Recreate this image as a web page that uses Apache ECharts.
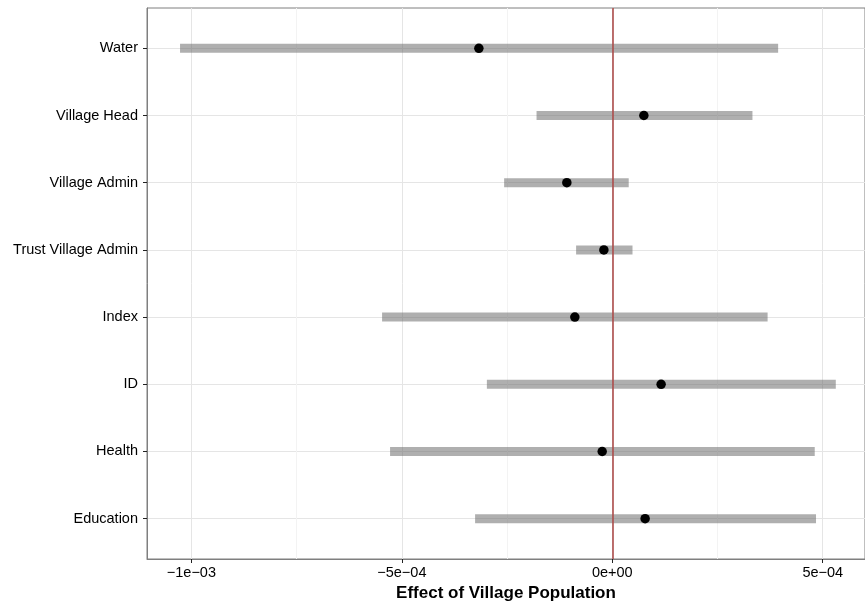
<!DOCTYPE html>
<html><head><meta charset="utf-8">
<script src="https://cdn.jsdelivr.net/npm/echarts@6/dist/echarts.min.js"></script>
<style>html,body{margin:0;padding:0;background:#fff}#c{width:865px;height:603px}</style>
</head><body><div id="c"></div>
<script>
// Bottom to top (ggplot order)
const categories = ['Education', 'Health', 'ID', 'Index', 'Trust Village Admin', 'Village Admin', 'Village Head', 'Water'];
const lowValues   = [-3.26e-4, -5.28e-4, -2.98e-4, -5.47e-4, -8.6e-5, -2.57e-4, -1.80e-4, -1.027e-3];
const highValues  = [ 4.84e-4,  4.81e-4,  5.31e-4,  3.69e-4,  4.8e-5,  3.9e-5,   3.33e-4,  3.94e-4];
const pointValues = [ 7.8e-5,  -2.4e-5,   1.16e-4, -8.9e-5,  -2.0e-5, -1.08e-4,  7.5e-5,  -3.17e-4];
const xTickValues = [-1e-3, -5e-4, 0, 5e-4];
const xTickLabels = ['\u22121e\u221203', '\u22125e\u221204', '0e+00', '5e\u221204'];
const xMinorValues = [-7.5e-4, -2.5e-4, 2.5e-4];
const refLineValue = 0;

const positions = categories.map((c, i) => i + 1);
const FONT = "'Liberation Sans', Arial, Helvetica, sans-serif";
const xMin = -1.1055e-3, xMax = 6.004e-4;

function xLabel(v) {
  for (let i = 0; i < xTickValues.length; i++) {
    if (Math.abs(v - xTickValues[i]) < 1e-9) return xTickLabels[i];
  }
  return '';
}

const chart = echarts.init(document.getElementById('c'), null, {renderer: 'canvas'});
chart.setOption({
  animation: false,
  backgroundColor: '#ffffff',
  grid: {left: 147, right: 0, top: 8, bottom: 44, containLabel: false, outerBoundsMode: 'none',
         show: true, borderColor: '#7f7f7f', borderWidth: 1, backgroundColor: '#ffffff'},
  xAxis: [{
    type: 'value', min: xMin, max: xMax, position: 'bottom',
    name: 'Effect of Village Population', nameLocation: 'middle', nameGap: 20,
    nameTextStyle: {fontFamily: FONT, fontSize: 17, fontWeight: 'bold', color: '#000'},
    axisLine: {show: true, onZero: false, lineStyle: {color: '#7f7f7f', width: 1}},
    axisTick: {show: true, length: 4, customValues: xTickValues, lineStyle: {color: '#222', width: 1}},
    axisLabel: {customValues: xTickValues, formatter: xLabel, margin: 6, fontFamily: FONT, fontSize: 14.5, color: '#000'},
    splitLine: {show: true, lineStyle: {color: '#e5e5e5', width: 1}}
  }, {
    type: 'value', min: xMin, max: xMax, position: 'top',
    axisLine: {show: false, onZero: false},
    axisTick: {show: false, customValues: xMinorValues},
    axisLabel: {show: false, customValues: xMinorValues},
    splitLine: {show: true, lineStyle: {color: '#f3f3f3', width: 1}}
  }],
  yAxis: {
    type: 'value', min: 0.4, max: 8.6, position: 'left',
    axisLine: {show: true, onZero: false, lineStyle: {color: '#7f7f7f', width: 1}},
    axisTick: {show: true, length: 4, customValues: positions, lineStyle: {color: '#222', width: 1}},
    axisLabel: {customValues: positions, formatter: v => categories[Math.round(v) - 1] || '', margin: 9, fontFamily: FONT, fontSize: 14.5, color: '#000'},
    splitLine: {show: true, lineStyle: {color: '#e5e5e5', width: 1}}
  },
  series: [{
    type: 'custom', xAxisIndex: 0, z: 2,
    data: categories.map((c, i) => [lowValues[i], highValues[i], positions[i]]),
    encode: {x: [0, 1], y: 2},
    renderItem: function (params, api) {
      const p1 = api.coord([api.value(0), api.value(2)]);
      const p2 = api.coord([api.value(1), api.value(2)]);
      return {type: 'line', shape: {x1: p1[0], y1: p1[1], x2: p2[0], y2: p2[1]},
              style: {stroke: 'rgba(110,110,110,0.55)', lineWidth: 9, lineCap: 'butt'}};
    }
  }, {
    type: 'scatter', xAxisIndex: 0, z: 3, data: [],
    markLine: {silent: true, symbol: ['none', 'none'], label: {show: false},
      lineStyle: {color: '#ad4d4b', width: 1.6, type: 'solid'},
      data: [{xAxis: refLineValue}]}
  }, {
    type: 'scatter', xAxisIndex: 0, z: 4,
    data: pointValues.map((v, i) => [v, positions[i]]),
    symbol: 'circle', symbolSize: 9.5,
    itemStyle: {color: '#000', opacity: 1}
  }]
});
</script>
</body></html>
